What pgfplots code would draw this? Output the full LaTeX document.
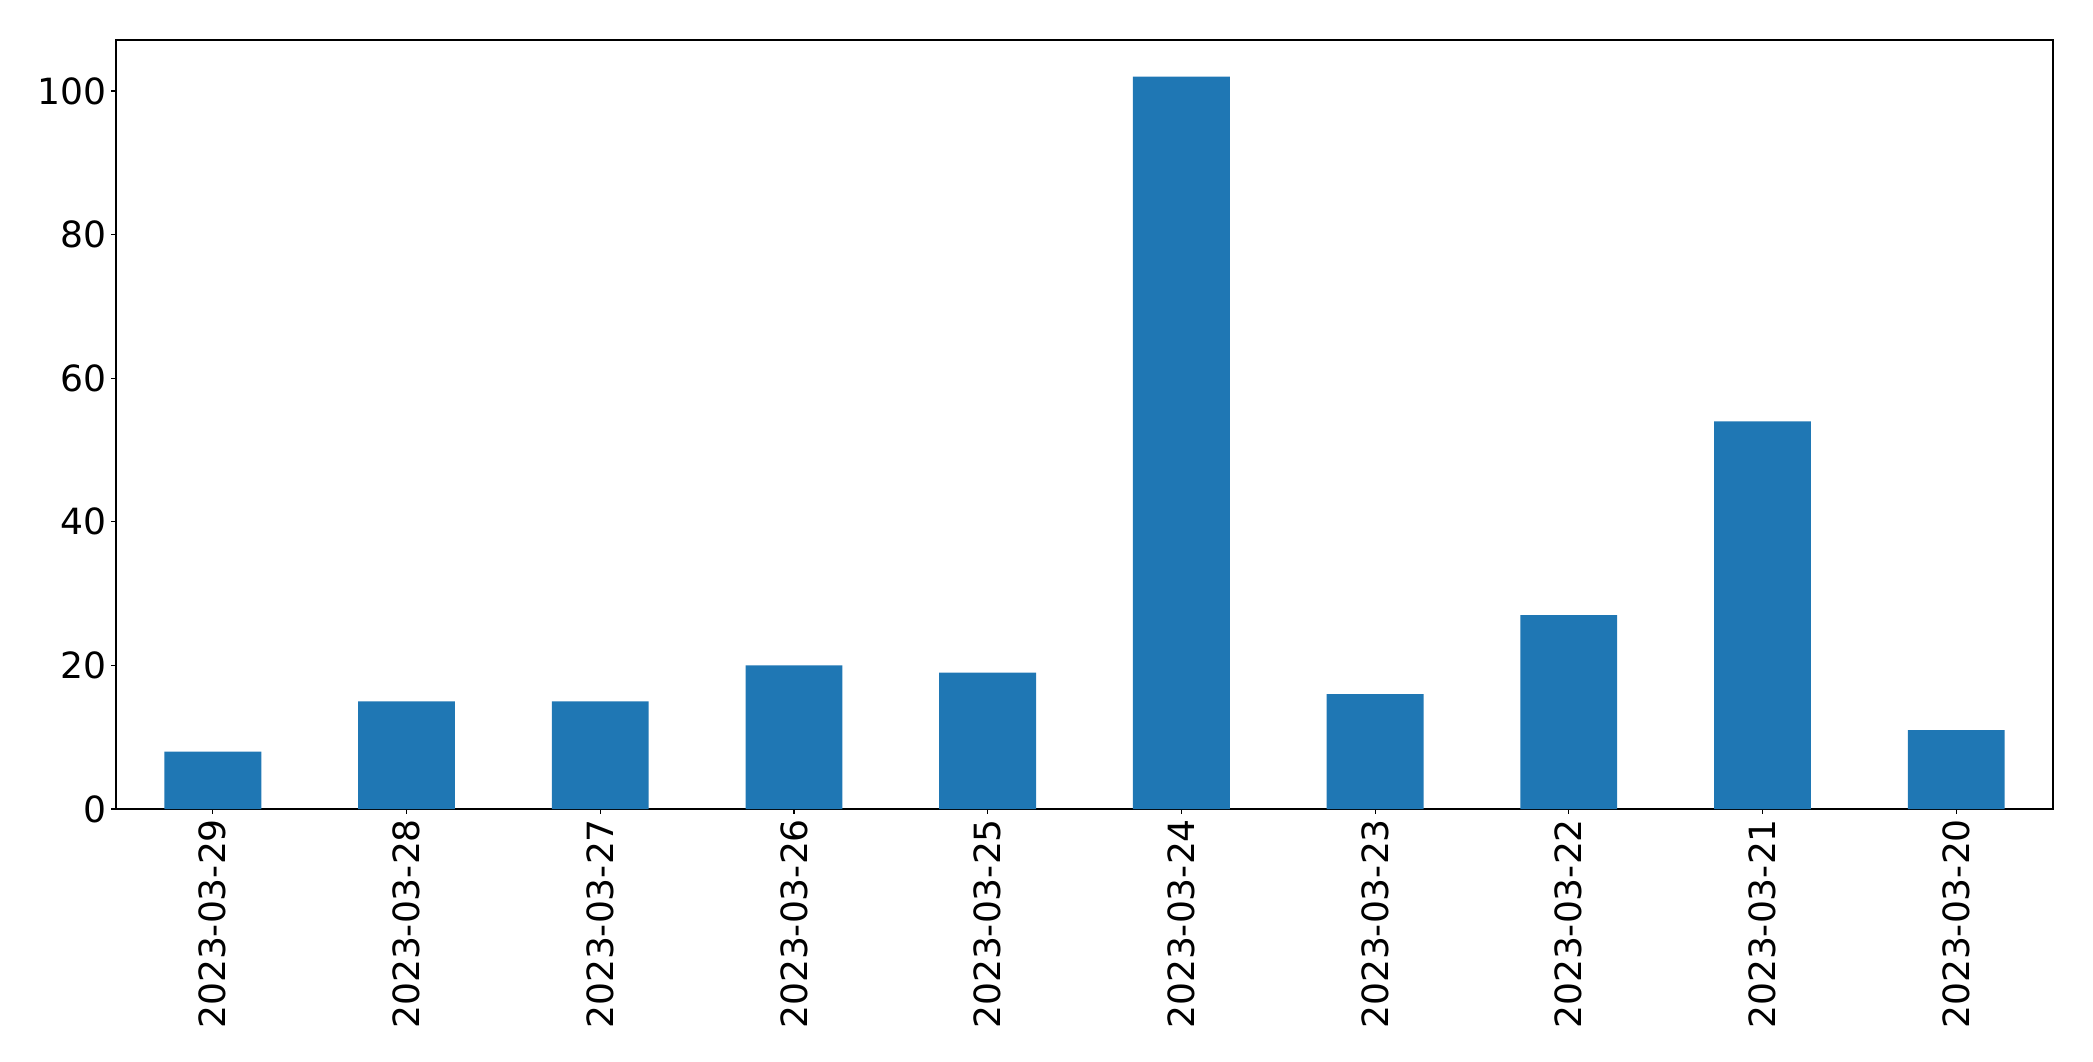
\documentclass[border=0pt]{standalone}
\usepackage{fontspec}
\setmainfont{DejaVu Sans}
\usepackage{pgfplots}
\pgfplotsset{compat=1.18}
\definecolor{tabblue}{HTML}{1F77B4}
\begin{document}
\begin{tikzpicture}
	\useasboundingbox (-83.52pt,-181.44pt) rectangle (1423.44pt,582.48pt);
	\begin{axis}[
		at={(0,0)}, anchor=south west,
		scale only axis,
		width=1394.64pt, height=553.68pt,
		xmin=-0.5, xmax=9.5,
		ymin=0, ymax=107.1,
		xtick={0,1,2,3,4,5,6,7,8,9},
		xticklabels={2023-03-29,2023-03-28,2023-03-27,2023-03-26,2023-03-25,2023-03-24,2023-03-23,2023-03-22,2023-03-21,2023-03-20},
		ytick={0,20,40,60,80,100},
		tick align=outside,
		major tick length=3.5pt,
		tick style={line width=0.8pt, black},
		axis line style={line width=0.8pt},
		xtick pos=bottom, ytick pos=left,
		/pgf/number format/assume math mode=true,
		tick label style={font=\fontsize{26}{31}\selectfont, inner sep=0pt},
		xticklabel style={rotate=90, anchor=east, xshift=-3.5pt},
		yticklabel style={anchor=east, xshift=-3.5pt},
		]
		\addplot[ybar, bar width=0.5, fill=tabblue, draw=none] coordinates {
			(0,8)(1,15)(2,15)(3,20)(4,19)(5,102)(6,16)(7,27)(8,54)(9,11)
		};
	\end{axis}
\end{tikzpicture}
\end{document}
